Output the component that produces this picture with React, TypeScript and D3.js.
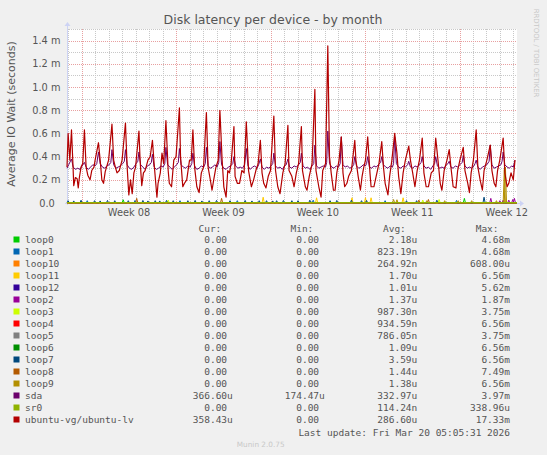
import React from 'react';
import * as d3 from 'd3';

const W = 547;
const H = 455;
const HOUR = 3600 * 1000;
const START = Date.UTC(2026, 1, 14, 21, 40);
const SPAN_H = 800.6;

// values are milliseconds, time is hours after START
const lvPoints: [number, number][] = [
  [0,0.31],[2,0.60],[5,0.37],[8,0.63],[11,0.28],[12,0.15],[15,0.22],[18,0.21],[20,0.13],[22,0.22],[25,0.31],[28,0.34],
  [31,0.63],[34,0.31],[37,0.24],[41,0.20],[44,0.28],[48,0.31],[50,0.37],[56,0.52],[59,0.37],[62,0.20],[65,0.17],[68,0.27],
  [74,0.37],[80,0.68],[83,0.37],[86,0.31],[89,0.26],[93,0.28],[98,0.37],[104,0.69],[107,0.31],[110,0.07],[113,0.20],[116,0.08],
  [119,0.26],[122,0.31],[128,0.62],[130,0.37],[133,0.15],[136,0.26],[139,0.28],[144,0.37],[148,0.40],[152,0.54],[155,0.34],[160,0.05],
  [162,0.17],[166,0.26],[169,0.43],[172,0.34],[176,0.71],[180,0.28],[182,0.17],[186,0.14],[190,0.37],[194,0.40],[200,0.82],[202,0.40],
  [206,0.14],[209,0.17],[213,0.20],[218,0.37],[221,0.37],[224,0.63],[227,0.31],[231,0.14],[235,0.09],[239,0.26],[243,0.31],[248,0.78],
  [251,0.31],[255,0.20],[258,0.11],[261,0.20],[265,0.31],[269,0.37],[272,0.80],[276,0.37],[279,0.14],[283,0.05],[286,0.28],[289,0.26],
  [292,0.34],[297,0.66],[299,0.23],[303,0.17],[307,0.17],[311,0.28],[315,0.26],[319,0.70],[323,0.28],[328,0.14],[332,0.20],[336,0.28],
  [340,0.34],[344,0.54],[347,0.26],[350,0.17],[354,0.13],[358,0.23],[362,0.28],[368,0.75],[371,0.28],[375,0.14],[379,0.08],[384,0.26],
  [388,0.34],[393,0.67],[395,0.28],[400,0.23],[404,0.14],[408,0.26],[412,0.34],[417,0.66],[419,0.28],[424,0.14],[427,0.11],[431,0.23],
  [436,0.34],[441,0.98],[443,0.28],[448,0.14],[452,0.05],[455,0.28],[460,0.34],[464,1.355],[467,0.40],[470,0.26],[474,0.11],[477,0.11],
  [480,0.26],[484,0.37],[488,0.57],[491,0.26],[494,0.14],[498,0.17],[501,0.23],[506,0.28],[512,0.54],[514,0.37],[518,0.23],[522,0.11],
  [525,0.23],[528,0.31],[531,0.37],[535,0.57],[539,0.26],[541,0.14],[546,0.14],[550,0.23],[555,0.34],[560,0.53],[563,0.31],[566,0.17],
  [571,0.07],[574,0.23],[578,0.37],[583,0.60],[587,0.43],[590,0.23],[594,0.08],[598,0.26],[602,0.37],[608,0.49],[611,0.37],[615,0.26],
  [619,0.14],[623,0.28],[627,0.37],[632,0.56],[635,0.26],[639,0.14],[643,0.14],[648,0.26],[652,0.28],[656,0.56],[660,0.37],[664,0.17],
  [667,0.11],[671,0.28],[676,0.37],[680,0.46],[683,0.31],[687,0.14],[692,0.13],[695,0.28],[699,0.37],[705,0.48],[708,0.28],[713,0.17],
  [716,0.09],[719,0.26],[723,0.37],[728,0.63],[731,0.31],[735,0.20],[739,0.11],[742,0.28],[747,0.37],[753,0.50],[756,0.28],[760,0.17],
  [763,0.14],[766,0.28],[770,0.37],[776,0.56],[779,0.26],[783,0.14],[786,0.17],[790,0.26],[794,0.20],[797,0.37],
];

const sdaPoints: [number, number][] = [
  [0,0.30],[3,0.33],[8,0.38],[11,0.31],[15,0.29],[19,0.30],[23,0.29],[27,0.32],[31,0.35],[34,0.31],[38,0.29],[42,0.31],[46,0.33],
  [50,0.32],[53,0.34],[56,0.44],[59,0.34],[63,0.31],[67,0.30],[71,0.32],[75,0.33],[78,0.35],[80,0.46],[83,0.33],[87,0.30],[91,0.31],
  [95,0.32],[99,0.34],[102,0.36],[104,0.46],[107,0.33],[111,0.30],[115,0.29],[119,0.31],[123,0.34],[126,0.36],[128,0.44],[131,0.33],
  [135,0.31],[139,0.29],[143,0.32],[147,0.33],[150,0.35],[152,0.42],[155,0.31],[159,0.29],[163,0.30],[167,0.32],[171,0.31],[174,0.34],
  [176,0.48],[179,0.33],[183,0.31],[187,0.29],[191,0.31],[195,0.33],[198,0.35],[200,0.47],[203,0.33],[207,0.31],[211,0.30],[215,0.32],
  [219,0.31],[222,0.34],[224,0.43],[227,0.32],[231,0.29],[235,0.30],[239,0.32],[243,0.31],[246,0.34],[248,0.48],[251,0.32],[255,0.30],
  [259,0.31],[263,0.33],[267,0.31],[270,0.35],[272,0.53],[275,0.33],[279,0.30],[283,0.29],[287,0.31],[291,0.32],[295,0.34],[297,0.40],
  [300,0.32],[304,0.30],[308,0.31],[312,0.30],[316,0.33],[319,0.47],[322,0.32],[326,0.29],[330,0.31],[334,0.32],[338,0.30],[341,0.33],
  [344,0.38],[347,0.31],[351,0.29],[355,0.31],[359,0.30],[363,0.32],[366,0.34],[368,0.43],[371,0.32],[375,0.30],[379,0.31],[383,0.29],
  [387,0.32],[390,0.33],[393,0.38],[396,0.31],[400,0.30],[404,0.32],[408,0.31],[412,0.33],[415,0.35],[417,0.43],[420,0.32],[424,0.30],
  [428,0.31],[432,0.29],[436,0.32],[439,0.34],[441,0.50],[444,0.32],[448,0.30],[452,0.31],[456,0.32],[460,0.31],[462,0.35],[464,0.62],
  [467,0.34],[471,0.31],[475,0.30],[479,0.32],[483,0.31],[486,0.34],[488,0.57],[491,0.33],[495,0.31],[499,0.32],[503,0.30],[507,0.31],
  [510,0.33],[512,0.40],[515,0.32],[519,0.30],[523,0.31],[527,0.33],[531,0.32],[533,0.34],[535,0.40],[538,0.31],[542,0.30],[546,0.32],
  [550,0.31],[554,0.33],[558,0.35],[560,0.40],[563,0.33],[567,0.31],[571,0.30],[575,0.32],[579,0.31],[581,0.34],[583,0.57],[586,0.34],
  [590,0.31],[594,0.30],[598,0.32],[602,0.31],[606,0.33],[608,0.36],[611,0.31],[615,0.30],[619,0.32],[623,0.31],[627,0.33],[630,0.35],
  [632,0.40],[635,0.32],[639,0.30],[643,0.31],[647,0.29],[651,0.32],[654,0.34],[656,0.40],[659,0.32],[663,0.30],[667,0.31],[671,0.30],
  [675,0.33],[678,0.34],[680,0.36],[683,0.31],[687,0.30],[691,0.32],[695,0.31],[699,0.33],[703,0.35],[705,0.41],[708,0.32],[712,0.30],
  [716,0.31],[720,0.30],[724,0.32],[726,0.34],[728,0.37],[731,0.31],[735,0.29],[739,0.31],[743,0.32],[747,0.33],[751,0.36],[753,0.50],
  [756,0.33],[760,0.30],[764,0.31],[768,0.32],[772,0.33],[774,0.36],[776,0.44],[779,0.33],[783,0.31],[787,0.30],[791,0.32],[794,0.31],
  [797,0.37],
];

// short bursts of the loop devices: [hour, ms]
const loop0Spikes: [number, number][] = [[100,0.028],[707,0.04]];
const loop1Spikes: [number, number][] = [[36,0.02],[121,0.022],[201,0.02],[303,0.02],[438,0.024],[566,0.02],[693,0.022]];
const loop3Spikes: [number, number][] = [[180,0.025],[633,0.025],[662,0.03]];
const loop11Spikes: [number, number][] = [[349,0.05],[444,0.045],[507,0.045],[531,0.045],[541,0.045],[598,0.045]];
const loop2Spikes: [number, number][] = [[754,0.04],[770,0.02],[776,0.025],[786,0.025],[793,0.03],[796,0.04]];
const loop7Spikes: [number, number][] = [
  [2,0.02],[12,0.018],[25,0.024],[49,0.02],[59,0.018],[72,0.022],[85,0.02],[109,0.02],[135,0.022],[144,0.018],
  [157,0.02],[165,0.018],[177,0.022],[189,0.02],[215,0.02],[228,0.022],[240,0.018],[253,0.02],[266,0.022],
  [290,0.02],[317,0.022],[329,0.018],[342,0.02],[355,0.02],[366,0.018],[373,0.02],[385,0.022],[400,0.02],
  [411,0.02],[432,0.024],[468,0.02],[480,0.022],[506,0.024],[524,0.02],[533,0.022],[604,0.02],[622,0.02],
  [658,0.024],[742,0.05],
];
const loop8Spikes: [number, number][] = [[124,0.04],[275,0.04],[626,0.025],[643,0.03]];
const loop9Spikes: [number, number][] = [
  [581,0.03],[587,0.028],[640,0.02],[672,0.02],[696,0.02],[720,0.02],[764,0.02],[778,0.29],[780,0.31],
];

const legendNames = ['loop0','loop1','loop10','loop11','loop12','loop2','loop3','loop4','loop5','loop6','loop7','loop8','loop9','sda','sr0','ubuntu-vg/ubuntu-lv'];
const legendColors = ['#00CC00','#0066B3','#FF8000','#FFCC00','#330099','#990099','#CCFF00','#FF0000','#808080','#008F00','#00487D','#B35A00','#B38F00','#6B006B','#8FB300','#B30000'];
const curVals = ['0.00','0.00','0.00','0.00','0.00','0.00','0.00','0.00','0.00','0.00','0.00','0.00','0.00','366.60u','0.00','358.43u'];
const minVals = ['0.00','0.00','0.00','0.00','0.00','0.00','0.00','0.00','0.00','0.00','0.00','0.00','0.00','174.47u','0.00','0.00'];
const avgVals = ['2.18u','823.19n','264.92n','1.70u','1.01u','1.37u','987.30n','934.59n','786.05n','1.09u','3.59u','1.44u','1.38u','332.97u','114.24n','286.60u'];
const maxVals = ['4.68m','4.68m','608.00u','6.56m','5.62m','1.87m','3.75m','6.56m','3.75m','6.56m','6.56m','7.49m','6.56m','3.97m','338.96u','17.33m'];
const colHeads = ['Cur:','Min:','Avg:','Max:'];

const spikeSeries: Record<string, [number, number][]> = {
  loop0: loop0Spikes, loop1: loop1Spikes, loop3: loop3Spikes, loop11: loop11Spikes, loop2: loop2Spikes,
  loop7: loop7Spikes, loop8: loop8Spikes, loop9: loop9Spikes,
};

const SANS = '"DejaVu Sans", Verdana, sans-serif';
const MONO = '"DejaVu Sans Mono", monospace';
const TXT = '#555';
const AXIS = '#cdd3f4';

export default function App() {
  const plot = { l: 67, r: 517, t: 29.1, b: 203 };
  const end = START + SPAN_H * HOUR;
  const x = d3.scaleUtc().domain([new Date(START), new Date(end)]).range([plot.l, plot.r]);
  const y = d3.scaleLinear().domain([0, 1.5]).range([plot.b, plot.t]);
  const xh = (h: number) => x(new Date(START + h * HOUR));

  const line = d3.line<[number, number]>().x(d => xh(d[0])).y(d => y(d[1]));

  const spikePath = (ev: [number, number][]) => {
    const pts: [number, number][] = [[0, 0]];
    ev.forEach(([h, v]) => { pts.push([h - 2, 0], [h, v], [h + 2, 0]); });
    pts.push([SPAN_H, 0]);
    return line(pts) || '';
  };

  const majorY = d3.range(0.2, 1.41, 0.2);
  const minorY = d3.range(1, 16).map(i => i / 10).filter(v => Math.round(v * 10) % 2 === 1);
  const days = d3.utcDay.range(new Date(START), new Date(end));
  const mondays = d3.utcMonday.range(new Date(START), new Date(end));
  const weekLabels = mondays
    .map(m => ({ t: new Date(+m + 3.5 * 24 * HOUR), label: 'Week ' + d3.utcFormat('%V')(m) }))
    .filter(d => +d.t < end);

  const colEnd = [232.8, 324.8, 417.3, 510];
  const cols = [curVals, minVals, avgVals, maxVals];
  const pad = (s: string) => (/[a-z]$/.test(s) ? s : s + '\u00a0');
  const rowY = (i: number) => 243 + i * 12;

  return (
    <svg width={W} height={H} viewBox={`0 0 ${W} ${H}`}
      style={{ position: 'fixed', left: 0, top: 0, display: 'block' }}>
      <rect x={0} y={0} width={W} height={H} fill="#F0F0F0" />
      <rect x={plot.l} y={plot.t} width={plot.r - plot.l} height={plot.b - plot.t} fill="#fff" />

      {/* grid */}
      <g shapeRendering="crispEdges" strokeDasharray="1,1">
        {minorY.map(v => (
          <line key={'mny' + v} x1={plot.l} x2={plot.r} y1={Math.round(y(v)) + 0.5} y2={Math.round(y(v)) + 0.5} stroke="#c8c8c8" />
        ))}
        {days.filter(d => d.getUTCDay() !== 1).map(d => (
          <line key={'mnx' + +d} x1={Math.round(x(d)) + 0.5} x2={Math.round(x(d)) + 0.5} y1={plot.t} y2={plot.b} stroke="#c8c8c8" />
        ))}
        {majorY.map(v => (
          <line key={'mjy' + v} x1={plot.l} x2={plot.r} y1={Math.round(y(v)) + 0.5} y2={Math.round(y(v)) + 0.5} stroke="#e8a0a0" />
        ))}
        {mondays.map(d => (
          <line key={'mjx' + +d} x1={Math.round(x(d)) + 0.5} x2={Math.round(x(d)) + 0.5} y1={plot.t} y2={plot.b + 2} stroke="#e8a0a0" />
        ))}
      </g>

      {/* axes */}
      <line x1={plot.l - 2} x2={plot.r + 3} y1={plot.b + 0.5} y2={plot.b + 0.5} stroke={AXIS} />
      <line x1={plot.l + 0.5} x2={plot.l + 0.5} y1={plot.b + 2} y2={plot.t - 4} stroke={AXIS} />
      <path d={`M${plot.r + 3},${plot.b - 2.5}L${plot.r + 7},${plot.b + 0.5}L${plot.r + 3},${plot.b + 3.5}Z`} fill={AXIS} />
      <path d={`M${plot.l - 2.5},${plot.t - 3}L${plot.l + 0.5},${plot.t - 7}L${plot.l + 3.5},${plot.t - 3}Z`} fill={AXIS} />

      {/* series, munin draw order */}
      <g fill="none" strokeWidth={1} strokeLinejoin="round">
        {legendNames.map((name, i) => {
          if (name === 'sda') return <path key={name} d={line(sdaPoints) || ''} stroke={legendColors[i]} />;
          const ev = spikeSeries[name];
          if (!ev) return null;
          return <path key={name} d={spikePath(ev)} stroke={legendColors[i]} />;
        })}
        <line x1={plot.l} x2={plot.r} y1={plot.b - 0.5} y2={plot.b - 0.5} stroke="#8FB300" />
        <path d={line(lvPoints) || ''} stroke="#B30000" strokeWidth={1.2} />
      </g>

      {/* tick labels */}
      <g fontFamily={SANS} fontSize={9.8} fill={TXT}>
        {[0, ...majorY].map(v => (
          <text key={'yt' + v} x={v === 0 ? 54.8 : 60.5} y={y(v) + 3.5} textAnchor="end">
            {v === 0 ? '0.0' : `${v.toFixed(1)} m`}
          </text>
        ))}
        {weekLabels.map(d => (
          <text key={d.label} x={x(d.t)} y={215.5} textAnchor="middle">{d.label}</text>
        ))}
      </g>

      {/* titles */}
      <text x={273} y={23.5} textAnchor="middle" fontFamily={SANS} fontSize={12.5} fill={TXT}>
        Disk latency per device - by month
      </text>
      <text transform="translate(15,114) rotate(-90)" textAnchor="middle" fontFamily={SANS} fontSize={11} fill={TXT}>
        Average IO Wait (seconds)
      </text>
      <text transform="translate(534,53) rotate(90)" textAnchor="middle" fontFamily={SANS} fontSize={6.9} fill="#c8c8c8">
        RRDTOOL / TOBI OETIKER
      </text>

      {/* legend */}
      <g fontFamily={MONO} fontSize={9.5} fill={TXT}>
        {colHeads.map((h, j) => (
          <text key={h} x={colEnd[j] - 11.45} y={231.5} textAnchor="end">{h}</text>
        ))}
        {legendNames.map((name, i) => (
          <g key={name}>
            <rect x={13.5} y={rowY(i) - 6.5} width={6} height={6} fill={legendColors[i]} />
            <text x={25} y={rowY(i)}>{name}</text>
            {cols.map((c, j) => (
              <text key={j} x={colEnd[j]} y={rowY(i)} textAnchor="end">{pad(c[i])}</text>
            ))}
          </g>
        ))}
        <text x={510} y={435.5} textAnchor="end">Last update: Fri Mar 20 05:05:31 2026</text>
      </g>
      <text x={260.7} y={446.5} textAnchor="middle" fontFamily={SANS} fontSize={7.3} fill="#c8c8c8">Munin 2.0.75</text>
    </svg>
  );
}
